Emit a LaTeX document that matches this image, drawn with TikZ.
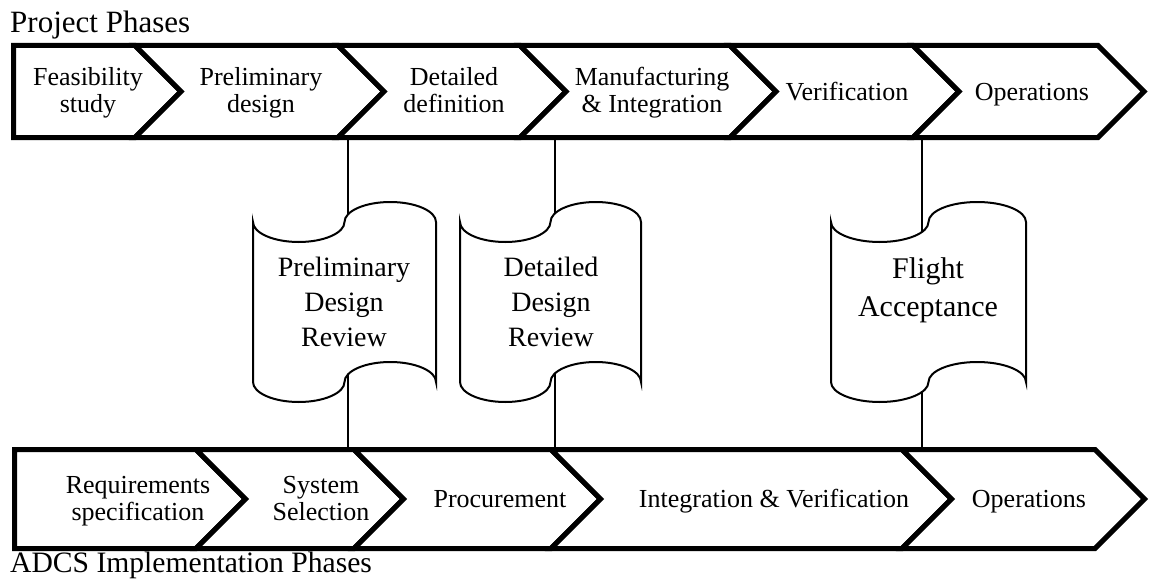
\documentclass[tikz,border=0pt]{standalone}
\usepackage{fontspec}
\setmainfont{Liberation Serif}

% one phase of a row: top-left x, top-right x, top y, bottom y, depth of the point
\newcommand\chev[5]{%
  \draw[phase] (#1,#3) -- (#2,#3) -- ({#2+#5},{(#3+#4)/2}) -- (#2,#4) -- (#1,#4)
    -- ({#1+#5},{(#3+#4)/2}) -- cycle;}
% first phase of a row, flat on its left side
\newcommand\firstchev[5]{%
  \draw[phase] (#1,#3) -- (#2,#3) -- ({#2+#5},{(#3+#4)/2}) -- (#2,#4) -- (#1,#4) -- cycle;}
% punched-tape outline: left x, right x, crest y
\newcommand\tape[3]{%
  \pgfmathsetmacro\tw{#2-#1}%
  \pgfmathsetmacro\qa{#1+0.25*\tw}%
  \pgfmathsetmacro\qm{#1+0.5*\tw}%
  \pgfmathsetmacro\qb{#1+0.75*\tw}%
  \pgfmathsetmacro\ka{0.5523*0.25*\tw}%
  \draw[tapebox] (#1,#3+20) .. controls (#1,#3+31) and (\qa-\ka,#3+40) .. (\qa,#3+40)
    .. controls (\qa+\ka,#3+40) and (\qm,#3+31) .. (\qm,#3+20)
    .. controls (\qm,#3+9) and (\qb-\ka,#3) .. (\qb,#3)
    .. controls (\qb+\ka,#3) and (#2,#3+9) .. (#2,#3+20)
    -- (#2,#3+180)
    .. controls (#2,#3+169) and (\qb+\ka,#3+160) .. (\qb,#3+160)
    .. controls (\qb-\ka,#3+160) and (\qm,#3+169) .. (\qm,#3+180)
    .. controls (\qm,#3+191) and (\qa+\ka,#3+200) .. (\qa,#3+200)
    .. controls (\qa-\ka,#3+200) and (#1,#3+191) .. (#1,#3+180) -- cycle;}

\begin{document}
\begin{tikzpicture}[x=1pt,y=-1pt,
  phase/.style={draw=black, line width=5pt, line join=miter, fill=white},
  rowtext/.style={font=\fontsize{26}{27}\selectfont, align=center, inner sep=0pt, anchor=base},
  reviewtext/.style={font=\fontsize{28}{35}\selectfont, align=center, inner sep=0pt},
  bigreview/.style={font=\fontsize{30}{38}\selectfont, align=center, inner sep=0pt},
  tapebox/.style={draw=black, line width=2pt, fill=white},
  link/.style={draw=black, line width=1.6pt},
  title/.style={inner sep=0pt, anchor=base west}]

\useasboundingbox[fill=white] (0,0) rectangle (1149,586);

% links between the two rows of phases
\coordinate (pdrT) at (348,137.5);  \coordinate (pdrB) at (348,449.5);
\coordinate (ddrT) at (555,137.5);  \coordinate (ddrB) at (555,449.5);
\coordinate (faT)  at (922,137.5);  \coordinate (faB)  at (922,449.5);
\draw[link] (pdrT) -- (pdrB);
\draw[link] (ddrT) -- (ddrB);
\draw[link] (faT) -- (faB);

% review milestones
\tape{253}{436}{202}
\tape{460}{641}{202}
\tape{831}{1026}{202}
\node[reviewtext] (pdr) at (344,302) {Preliminary\\Design\\Review};
\node[reviewtext] (ddr) at (551,302) {Detailed\\Design\\Review};
\node[bigreview]  (fa)  at (928,290) {Flight\\Acceptance};

% project phases
\firstchev{13.5}{135}{45.5}{137.5}{46}
\chev{135}{338}{45.5}{137.5}{46}
\chev{338}{520}{45.5}{137.5}{46}
\chev{520}{730}{45.5}{137.5}{46}
\chev{730}{913}{45.5}{137.5}{46}
\chev{913}{1098}{45.5}{137.5}{46}
\node[rowtext] (p1) at (88,112)   {Feasibility\\study};
\node[rowtext] (p2) at (261,112)  {Preliminary\\design};
\node[rowtext] (p3) at (454,112)  {Detailed\\definition};
\node[rowtext] (p4) at (652,112)  {Manufacturing\\\& Integration};
\node[rowtext] (p5) at (847,100)  {Verification};
\node[rowtext] (p6) at (1032,100) {Operations};

% ADCS implementation phases
\firstchev{14.5}{196}{449.5}{548.5}{49.5}
\chev{196}{354}{449.5}{548.5}{49.5}
\chev{354}{551}{449.5}{548.5}{49.5}
\chev{551}{902}{449.5}{548.5}{49.5}
\chev{902}{1095}{449.5}{548.5}{49.5}
\node[rowtext] (a1) at (138,520)  {Requirements\\specification};
\node[rowtext] (a2) at (321,520)  {System\\Selection};
\node[rowtext] (a3) at (500,507)  {Procurement};
\node[rowtext] (a4) at (774,507)  {Integration \& Verification};
\node[rowtext] (a5) at (1029,507) {Operations};

% row titles
\node[title, font=\fontsize{31}{33}\selectfont] (toptitle) at (10,33)  {Project Phases};
\node[title, font=\fontsize{29.6}{32}\selectfont] (bottitle) at (10,572) {ADCS Implementation Phases};
\end{tikzpicture}
\end{document}
